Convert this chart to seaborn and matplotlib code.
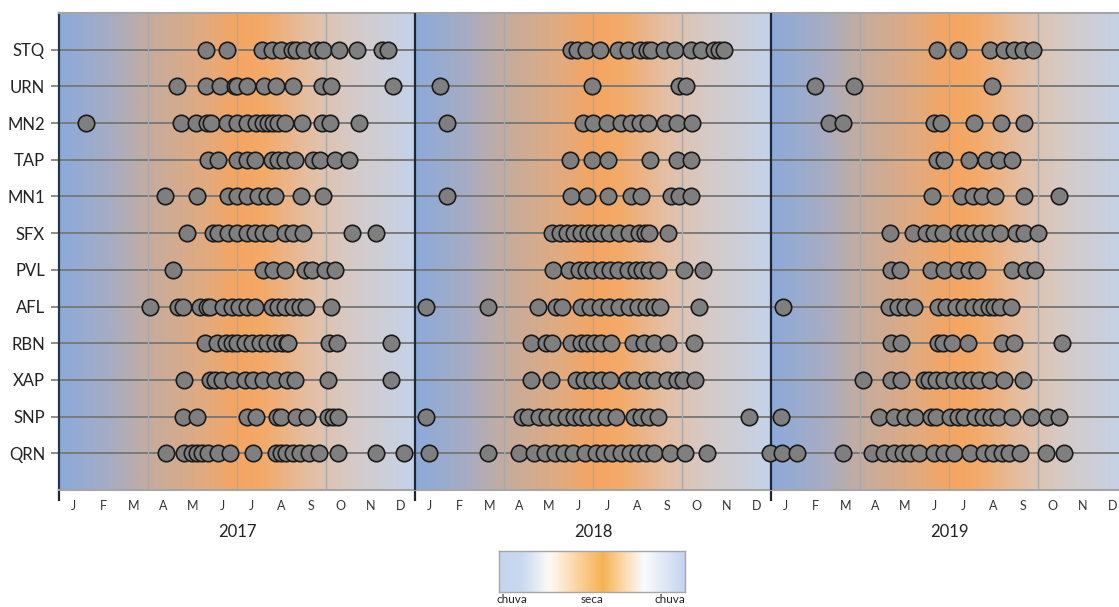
import numpy as np
import pandas as pd
import matplotlib
matplotlib.use("Agg")
import matplotlib.pyplot as plt
from matplotlib.colors import LinearSegmentedColormap
import seaborn as sns

# Sampling dates per site, expressed as months elapsed since 1 Jan 2017
sites = ["STQ", "URN", "MN2", "TAP", "MN1", "SFX", "PVL", "AFL", "RBN", "XAP", "SNP", "QRN"]

STQ = [4.94, 5.67, 6.83, 7.17, 7.48, 7.84, 7.99, 8.26, 8.69, 8.89, 9.44, 10.03, 10.88, 11.10,
       17.25, 17.47, 17.75, 18.23, 18.84, 19.18, 19.58, 19.83, 19.94, 20.39, 20.75, 21.32, 21.63,
       22.08, 22.25, 22.42,
       29.59, 30.31, 31.39, 31.86, 32.20, 32.48, 32.82]
URN = [3.97, 4.94, 5.43, 5.93, 6.01, 6.35, 6.91, 7.31, 7.88, 8.85, 9.16, 11.27,
       12.83, 17.98, 20.90, 21.15,
       25.48, 26.81, 31.44]
MN2 = [0.91, 4.10, 4.62, 4.98, 5.11, 5.65, 6.01, 6.35, 6.64, 6.89, 7.05, 7.22, 7.39, 7.62, 8.18,
       8.85, 9.13, 10.11,
       13.09, 17.67, 18.01, 18.48, 18.93, 19.27, 19.60, 19.85, 20.42, 20.82, 21.35,
       25.97, 26.42, 29.48, 29.73, 30.85, 31.75, 32.52]
TAP = [5.03, 5.37, 5.99, 6.33, 6.61, 7.17, 7.39, 7.62, 7.95, 8.57, 8.80, 9.30, 9.77,
       17.21, 17.98, 18.51, 19.92, 20.82, 21.29,
       29.59, 29.82, 30.68, 31.25, 31.69, 32.11]
MN1 = [3.57, 4.64, 5.71, 6.01, 6.33, 6.72, 7.00, 7.28, 8.16, 8.89,
       13.09, 17.27, 17.79, 18.51, 19.29, 19.63, 20.62, 20.90, 21.29,
       29.43, 30.40, 30.80, 31.10, 31.55, 32.54, 33.72]
SFX = [4.30, 5.20, 5.37, 5.71, 6.01, 6.33, 6.61, 6.89, 7.13, 7.62, 7.90, 8.23, 9.87, 10.68,
       16.63, 16.89, 17.14, 17.36, 17.59, 17.83, 18.03, 18.26, 18.54, 18.88, 19.21, 19.55, 19.74,
       19.89, 20.54,
       28.02, 28.78, 29.22, 29.50, 29.79, 30.31, 30.54, 30.82, 31.08, 31.39, 31.73, 32.26, 32.54,
       33.01]
PVL = [3.85, 6.89, 7.22, 7.62, 8.29, 8.52, 8.97, 9.30,
       16.66, 17.19, 17.53, 17.75, 18.01, 18.32, 18.57, 18.84, 19.18, 19.44, 19.66, 19.89, 20.19,
       21.07, 21.72,
       28.04, 28.36, 29.39, 29.82, 30.31, 30.68, 30.94, 32.14, 32.59, 32.90]
AFL = [3.07, 4.02, 4.19, 4.75, 4.98, 5.09, 5.54, 5.82, 6.08, 6.33, 6.61, 7.17, 7.39, 7.62, 7.90,
       8.12, 8.33, 9.17,
       12.36, 14.47, 16.13, 16.74, 16.97, 17.58, 17.90, 18.24, 18.54, 18.88, 19.21, 19.52, 19.78,
       20.04, 20.26, 21.57,
       24.39, 27.99, 28.27, 28.52, 28.83, 29.62, 29.90, 30.24, 30.52, 30.80, 31.08, 31.36, 31.51,
       31.73, 32.09]
RBN = [4.92, 5.32, 5.63, 5.82, 6.01, 6.27, 6.49, 6.77, 7.00, 7.28, 7.51, 7.67, 7.73, 9.11, 9.36,
       11.19,
       15.90, 16.41, 16.63, 17.25, 17.59, 17.81, 18.03, 18.26, 18.62, 19.35, 19.72, 20.04, 20.54,
       21.40,
       28.04, 28.38, 29.62, 29.79, 30.09, 30.65, 31.78, 32.18, 33.80]
XAP = [4.22, 5.09, 5.26, 5.48, 5.87, 6.27, 6.55, 6.89, 7.28, 7.67, 7.95, 9.08, 11.19,
       15.90, 16.60, 17.42, 17.70, 17.98, 18.28, 18.57, 19.14, 19.38, 19.81, 20.06, 20.51, 20.82,
       21.05, 21.43,
       27.09, 28.04, 28.38, 29.17, 29.34, 29.56, 29.82, 30.16, 30.46, 30.74, 31.02, 31.39, 31.84,
       32.50]
SNP = [4.17, 4.66, 6.33, 6.63, 7.34, 7.47, 7.99, 8.37, 9.08, 9.22, 9.39,
       12.36, 15.62, 15.81, 16.18, 16.46, 16.80, 17.08, 17.36, 17.59, 17.84, 18.15, 18.43, 18.76,
       19.38, 19.63, 19.89, 20.19, 23.26,
       24.34, 27.65, 28.14, 28.52, 28.85, 29.39, 29.56, 30.04, 30.31, 30.51, 30.87, 31.13, 31.41,
       31.66, 32.14, 32.76, 33.32, 33.72]
QRN = [3.60, 4.22, 4.47, 4.64, 4.81, 5.03, 5.37, 5.76, 6.55, 7.31, 7.48, 7.65, 7.88, 8.12, 8.44,
       8.77, 9.39, 10.67, 11.64,
       12.47, 14.47, 15.51, 16.01, 16.37, 16.71, 17.02, 17.31, 17.72, 18.09, 18.37, 18.65, 18.93,
       19.25, 19.52, 19.78, 20.06, 20.59, 21.09, 21.83, 23.98,
       24.36, 24.87, 26.42, 27.39, 27.82, 28.14, 28.44, 28.70, 29.00, 29.51, 29.82, 30.16, 30.72,
       31.19, 31.47, 31.78, 32.03, 32.40, 33.27, 33.89]

years = ["2017", "2018", "2019"]
month_labels = ["J", "F", "M", "A", "M", "J", "J", "A", "S", "O", "N", "D"]
season_labels = ["chuva", "seca", "chuva"]

samples = {"STQ": STQ, "URN": URN, "MN2": MN2, "TAP": TAP, "MN1": MN1, "SFX": SFX,
           "PVL": PVL, "AFL": AFL, "RBN": RBN, "XAP": XAP, "SNP": SNP, "QRN": QRN}

rows = []
for i, s in enumerate(sites):
    for m in samples[s]:
        rows.append({"site": s, "month": m, "row": len(sites) - 1 - i})
df = pd.DataFrame(rows)

sns.set_theme(style="white")
plt.rcParams["font.family"] = ["Lato", "DejaVu Sans"]

fig = plt.figure(figsize=(11.19, 6.07), dpi=100)
W, H = 1119, 607
ax = fig.add_axes([59 / W, 1 - 490 / H, 1068 / W, 477 / H])

# Wet/dry season background, repeated for every year
season_cmap = LinearSegmentedColormap.from_list("season", [
    (0.00, (140 / 255, 170 / 255, 218 / 255)),
    (0.14, (166 / 255, 172 / 255, 196 / 255)),
    (0.25, (196 / 255, 172 / 255, 160 / 255)),
    (0.42, (228 / 255, 170 / 255, 124 / 255)),
    (0.50, (245 / 255, 165 / 255, 96 / 255)),
    (0.58, (243 / 255, 170 / 255, 106 / 255)),
    (0.70, (228 / 255, 190 / 255, 162 / 255)),
    (0.82, (214 / 255, 202 / 255, 198 / 255)),
    (1.00, (196 / 255, 211 / 255, 234 / 255)),
])
grad = np.linspace(0, 1, 400).reshape(1, -1)
for k in range(len(years)):
    ax.imshow(grad, cmap=season_cmap, aspect="auto", extent=[12 * k, 12 * (k + 1), -1, 12],
              zorder=0, interpolation="bilinear")

# Row guide lines
for r in range(len(sites)):
    ax.axhline(r, color="#7a7a7a", lw=1.4, zorder=1)

# Quarter gridlines and year dividers
for k in range(len(years)):
    for q in (3, 6, 9):
        ax.axvline(12 * k + q, color="#a8a8a8", lw=1.0, zorder=1)
for k in (1, 2):
    ax.axvline(12 * k, color="#1e2533", lw=1.6, zorder=3)

sns.scatterplot(data=df, x="month", y="row", ax=ax, s=140, color="#7f7f7f",
                edgecolor="#1a1a1a", linewidth=1.2, zorder=4, legend=False, clip_on=False)

ax.set_xlim(0, 36)
ax.set_ylim(-1, 12)
ax.set_xlabel("")
ax.set_ylabel("")

ax.set_yticks(range(len(sites)))
ax.set_yticklabels(sites[::-1], fontsize=12, color="#222222")
ax.tick_params(axis="y", length=6, width=1.2, color="#7a7a7a", pad=4, left=True)

# Year boundary ticks (major) and month names (minor, centred in each month)
ax.set_xticks([0, 12, 24, 36])
ax.set_xticklabels([])
ax.tick_params(axis="x", which="major", length=8, width=1.6, color="#1e2533", bottom=True)
ax.set_xticks(np.arange(36) + 0.5, minor=True)
ax.set_xticklabels(month_labels * 3, minor=True, fontsize=9, color="#333333")
ax.tick_params(axis="x", which="minor", length=0, pad=7)

for k, y in enumerate(years):
    ax.annotate(y, xy=(12 * k + 6, 0), xycoords=("data", "axes fraction"),
                xytext=(0, -30), textcoords="offset points", ha="center", va="center",
                fontsize=12, color="#222222")

for side in ("top", "bottom"):
    ax.spines[side].set_color("#a6a6a6")
    ax.spines[side].set_linewidth(1.5)
ax.spines["left"].set_color("#2b3445")
ax.spines["left"].set_linewidth(1.6)
ax.spines["right"].set_visible(False)

# Season colour key
key_cmap = LinearSegmentedColormap.from_list("key", [
    (0.00, (196 / 255, 214 / 255, 238 / 255)),
    (0.12, (200 / 255, 217 / 255, 240 / 255)),
    (0.27, (253 / 255, 250 / 255, 244 / 255)),
    (0.45, (250 / 255, 205 / 255, 145 / 255)),
    (0.56, (245 / 255, 178 / 255, 82 / 255)),
    (0.66, (251 / 255, 214 / 255, 165 / 255)),
    (0.78, (250 / 255, 251 / 255, 253 / 255)),
    (1.00, (196 / 255, 212 / 255, 240 / 255)),
])
kax = fig.add_axes([499 / W, 1 - 592 / H, 186 / W, 41 / H])
kax.imshow(grad, cmap=key_cmap, aspect="auto", extent=[0, 1, 0, 1], interpolation="bilinear")
kax.set_xticks([])
kax.set_yticks([])
for sp in kax.spines.values():
    sp.set_color("#a6a6a6")
    sp.set_linewidth(1.0)
for xpos, lab in zip([0.07, 0.50, 0.92], season_labels):
    kax.text(xpos, -0.06, lab, transform=kax.transAxes, ha="center", va="top",
             fontsize=8.5, color="#222222")

fig.savefig("out.png", dpi=100, facecolor="white")
